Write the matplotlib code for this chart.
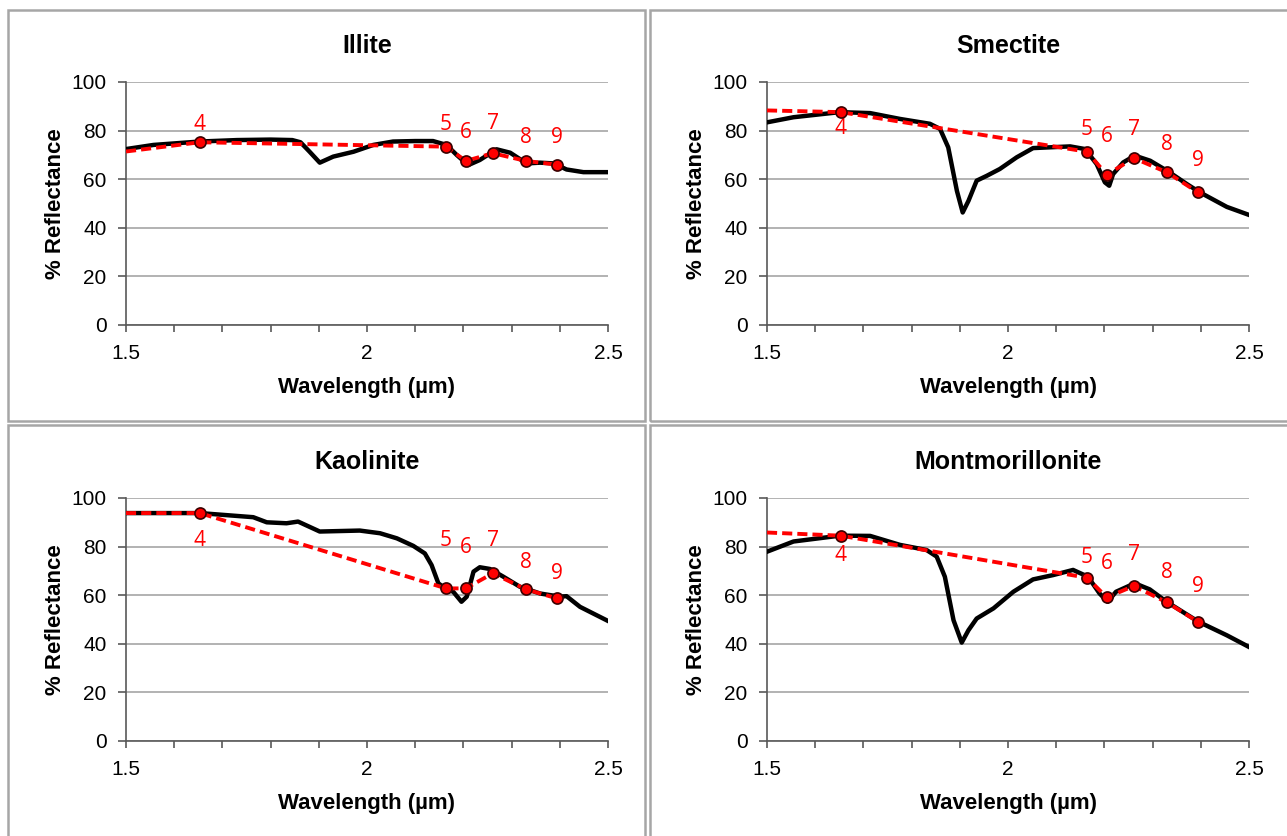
#! /usr/bin/env python
# Clay mineral reflectance spectra (1.5 - 2.5 um) with continuum hull points 4-9

import numpy as np
import matplotlib
matplotlib.use('Agg')
import matplotlib.pyplot as plt
from matplotlib.patches import Rectangle
from matplotlib.ticker import MultipleLocator

plt.rcParams['font.family'] = ['Liberation Sans', 'DejaVu Sans']

titles = ['Illite', 'Smectite', 'Kaolinite', 'Montmorillonite']

# ----- Spectra (wavelength um, % reflectance) -------------------------------------------
illite_wl = [1.50, 1.557, 1.653, 1.730, 1.80, 1.845, 1.862, 1.880, 1.902, 1.930, 1.972, 2.013,
             2.054, 2.10, 2.137, 2.165, 2.186, 2.210, 2.234, 2.269, 2.297, 2.331, 2.359,
             2.387, 2.414, 2.449, 2.50]
illite_r = [72.4, 74.1, 75.5, 76.1, 76.3, 76.1, 75.2, 71.5, 66.8, 69.3, 71.3, 74.1,
            75.5, 75.7, 75.7, 74.1, 70.0, 65.8, 67.9, 72.3, 70.9, 66.5, 66.8,
            66.5, 64.0, 62.9, 62.9]

smectite_wl = [1.50, 1.555, 1.651, 1.714, 1.776, 1.838, 1.859, 1.876, 1.894, 1.906, 1.918,
               1.935, 1.956, 1.983, 2.018, 2.052, 2.129, 2.160, 2.184, 2.201, 2.210, 2.218,
               2.239, 2.263, 2.295, 2.333, 2.371, 2.398, 2.454, 2.50]
smectite_r = [83.4, 85.5, 87.6, 87.2, 84.8, 82.8, 80.7, 73.1, 55.2, 46.3, 51.1,
              59.4, 61.4, 64.2, 69.0, 72.8, 73.5, 72.4, 66.2, 58.7, 57.3, 62.1,
              66.9, 69.7, 67.6, 63.1, 58.0, 54.6, 48.6, 45.3]

kaolinite_wl = [1.50, 1.653, 1.764, 1.792, 1.833, 1.857, 1.902, 1.985, 2.027, 2.062, 2.096,
                2.120, 2.134, 2.148, 2.162, 2.179, 2.196, 2.207, 2.221, 2.234, 2.255, 2.283,
                2.317, 2.359, 2.400, 2.414, 2.442, 2.50]
kaolinite_r = [93.8, 93.8, 92.1, 90.0, 89.6, 90.3, 86.2, 86.6, 85.5, 83.4, 80.3,
               77.2, 72.4, 64.9, 62.8, 61.4, 57.3, 59.4, 69.7, 71.5, 70.8, 67.6,
               63.5, 60.7, 59.4, 59.6, 55.2, 49.4]

montmor_wl = [1.50, 1.555, 1.651, 1.714, 1.776, 1.831, 1.852, 1.869, 1.887, 1.904, 1.918,
              1.935, 1.970, 2.011, 2.052, 2.094, 2.135, 2.166, 2.190, 2.207, 2.224, 2.263,
              2.294, 2.329, 2.395, 2.454, 2.50]
montmor_r = [77.9, 82.1, 84.5, 84.4, 80.7, 78.6, 75.9, 67.6, 49.7, 40.5, 45.6,
             50.4, 54.6, 61.4, 66.5, 68.3, 70.4, 67.6, 60.7, 57.3, 61.4, 64.9,
             62.4, 57.3, 49.1, 43.5, 38.7]

# ----- Hull (dashed) lines: start at 1.5 um, then points 4..9 -----------------------------
hull_wl = [1.50, 1.653, 2.164, 2.205, 2.261, 2.330, 2.394]
point_names = ['4', '5', '6', '7', '8', '9']
illite_hull = [71.4, 75.2, 73.4, 67.5, 70.7, 67.5, 66.0]
smectite_hull = [88.3, 87.6, 71.3, 61.8, 68.7, 62.8, 54.6]
kaolinite_hull = [93.8, 93.8, 62.8, 62.8, 69.0, 62.4, 58.7]
montmor_hull = [85.8, 84.5, 67.2, 59.1, 63.8, 57.0, 49.1]

spectra_wl = [illite_wl, smectite_wl, kaolinite_wl, montmor_wl]
spectra_r = [illite_r, smectite_r, kaolinite_r, montmor_r]
hulls = [illite_hull, smectite_hull, kaolinite_hull, montmor_hull]

# label offsets above (+) or below (-) each hull point, in pixels
lab_dy = [[18, 22, 28, 30, 23, 27],
          [-16, 22, 38, 29, 28, 32],
          [-27, 48, 41, 33, 27, 25],
          [-20, 20, 34, 31, 30, 35]]

W, H = 1287, 836
fig = plt.figure(figsize=(W / 100., H / 100.), dpi=100)

# gray boxes around each panel (pixel coords)
boxes = [(8, 10, 645, 421), (650, 10, 1295, 421), (8, 425, 645, 845), (650, 425, 1295, 845)]
for x0, y0, x1, y1 in boxes:
    fig.patches.append(Rectangle((x0 / W, 1 - y1 / H), (x1 - x0) / W, (y1 - y0) / H,
                                 transform=fig.transFigure, fill=False,
                                 edgecolor='#a6a6a6', linewidth=1.8))

# axes extents (pixels): left, right, top, bottom
ax_px = [(126, 608, 82, 325), (767, 1249, 82, 325), (126, 608, 498, 741), (767, 1249, 498, 741)]

for i in range(4):
    l, r, t, b = ax_px[i]
    ax = fig.add_axes([l / W, 1 - b / H, (r - l) / W, (b - t) / H])

    ax.set_xlim(1.5, 2.5)
    ax.set_ylim(0, 100)
    ax.xaxis.set_minor_locator(MultipleLocator(0.1))
    ax.yaxis.set_major_locator(MultipleLocator(20))
    ax.set_xticks([1.5, 2.0, 2.5])
    ax.set_xticklabels(['1.5', '2', '2.5'])

    ax.spines['right'].set_color('none')
    ax.spines['top'].set_color('none')
    ax.spines['left'].set_color('#595959')
    ax.spines['bottom'].set_color('#595959')
    ax.spines['left'].set_linewidth(1.2)
    ax.spines['bottom'].set_linewidth(1.2)
    ax.grid(True, axis='y', color='#a6a6a6', linewidth=1.2)
    ax.set_axisbelow(True)
    ax.tick_params(axis='both', which='both', direction='out', color='#595959',
                   labelsize=15, width=1.2)
    ax.tick_params(axis='y', length=6, pad=8)
    ax.tick_params(axis='x', which='both', length=5, pad=9)

    ax.set_title(titles[i], fontsize=18, fontweight='bold', pad=21)
    ax.set_xlabel('Wavelength (\u00b5m)', fontsize=16, fontweight='bold', labelpad=10)
    ax.set_ylabel('% Reflectance', fontsize=16, fontweight='bold', labelpad=4)

    # spectrum
    ax.plot(spectra_wl[i], spectra_r[i], color='black', linewidth=3.2,
            solid_joinstyle='round', zorder=3)

    # hull line and points
    hv = hulls[i]
    ax.plot(hull_wl, hv, color='red', linestyle=(0, (2.6, 1.3)), linewidth=2.8, zorder=4)
    ax.plot(hull_wl[1:], hv[1:], linestyle='none', marker='o', markersize=8,
            markerfacecolor='red', markeredgecolor='#3a0000', markeredgewidth=1.2, zorder=5)

    for j, name in enumerate(point_names):
        ax.annotate(name, (hull_wl[j + 1], hv[j + 1]), xytext=(0, lab_dy[i][j]),
                    textcoords='offset pixels', ha='center', va='center',
                    color='red', fontsize=15, family=['Open Sans', 'DejaVu Sans'])

fig.savefig('out.png', dpi=100)
